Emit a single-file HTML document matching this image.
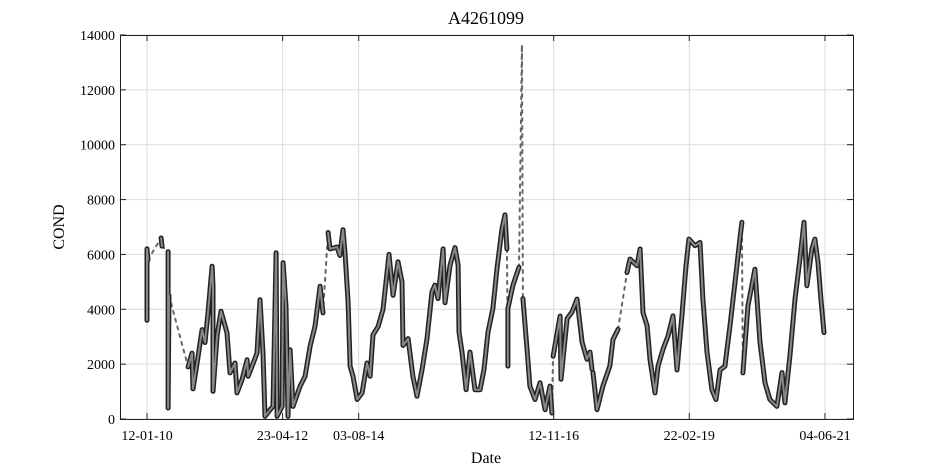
<!DOCTYPE html>
<html><head><meta charset="utf-8"><style>
html,body{margin:0;padding:0;background:#fff;}
svg{display:block;font-family:"Liberation Serif",serif;}
</style></head><body>
<svg id="chart" width="945" height="472">
<text x="486" y="24" text-anchor="middle" font-size="18">A4261099</text>
<text x="486" y="463" text-anchor="middle" font-size="16">Date</text>
<text transform="translate(64,227) rotate(-90)" text-anchor="middle" font-size="16">COND</text>
<g id="grid"></g>
<g id="series"></g>
<rect x="120.5" y="35.5" width="733" height="384" fill="none" stroke="#222" stroke-width="1"/>
<g id="axes"></g>
</svg>
<script>
const days=[0,0,6,86,92,129,129,135,252,276,282,307,338,356,374,399,405,405,430,454,491,509,540,552,583,614,620,644,675,693,712,724,755,773,792,798,829,835,853,865,878,896,939,970,1001,1031,1062,1080,1111,1123,1166,1184,1203,1215,1234,1246,1264,1289,1320,1350,1369,1387,1418,1448,1485,1510,1540,1565,1571,1602,1632,1657,1688,1718,1749,1767,1786,1817,1829,1860,1890,1909,1915,1933,1958,1982,2013,2044,2068,2093,2123,2148,2179,2197,2209,2215,2215,2246,2283,2301,2307,2332,2350,2381,2412,2443,2473,2485,2492,2535,2541,2578,2608,2639,2670,2700,2719,2731,2737,2762,2798,2841,2860,2891,2946,2964,3007,3026,3044,3069,3087,3118,3136,3167,3198,3228,3253,3283,3308,3326,3363,3394,3412,3437,3467,3492,3517,3547,3578,3609,3639,3651,3657,3688,3731,3762,3793,3823,3866,3897,3915,3946,3977,4007,4032,4050,4081,4099,4118,4136,4155];
const cond=[3600,6200,5800,6600,6300,6100,400,4500,1900,2400,1100,2040,3260,2790,3870,5570,4840,1010,3040,3930,3140,1680,2040,950,1430,2160,1560,1920,2400,4350,2400,100,340,460,6060,100,460,5700,4100,100,2520,460,1190,1560,2650,3380,4840,3870,6800,6200,6270,5960,6900,6060,4260,1930,1560,710,950,2040,1560,3070,3370,3990,6000,4510,5730,5000,2680,2930,1560,830,1810,2930,4640,4880,4390,6200,4240,5610,6250,5610,3170,2440,1070,2440,1070,1070,1810,3170,4030,5490,6960,7440,6200,1930,4030,4880,5530,13600,4390,2560,1200,710,1320,340,1200,220,2290,3750,1450,3660,3900,4370,2800,2180,2440,1810,1690,340,1200,1940,2900,3270,5340,5830,5590,6200,3880,3400,2170,950,1920,2540,3030,3760,1790,3760,5590,6560,6320,6440,4380,2440,1070,710,1790,1920,3400,4980,6560,7170,1680,4110,5460,2800,1320,710,460,1690,590,2290,4370,5830,7170,4860,6200,6560,5710,4380,3150];
const gapAfter=[2,4,7,47,94,98,99,107,117,123,151];
const yTicks=[0,2000,4000,6000,8000,10000,12000,14000];
const xTickDays=[0,832,1299,2496,3328,4161];
const xTickLabels=["12-01-10","23-04-12","03-08-14","12-11-16","22-02-19","04-06-21"];
const NS="http://www.w3.org/2000/svg";
const X0=120,X1=853,Y0=419,Y1=35,DMIN=-166,DMAX=4333;
function xs(d){return X0+(d-DMIN)/(DMAX-DMIN)*(X1-X0);}
function ys(v){return Y0-v/14000*(Y0-Y1);}
function mk(t,a,p){const e=document.createElementNS(NS,t);for(const k in a)e.setAttribute(k,a[k]);p.appendChild(e);return e;}
const grid=document.getElementById('grid'),axes=document.getElementById('axes'),ser=document.getElementById('series');
yTicks.forEach(v=>{const y=ys(v);
 const g=mk('line',{x1:X0,x2:X1,y1:y,y2:y,stroke:'#dcdcdc','stroke-width':1},grid);
 
 
 mk('line',{x1:X0,x2:X0+6,y1:y,y2:y,stroke:'#222'},axes);
 mk('line',{x1:X1-6,x2:X1,y1:y,y2:y,stroke:'#222'},axes);
 const t=mk('text',{x:X0-5,y:y+5,'text-anchor':'end','font-size':14},axes);t.textContent=v;
 
 
});
xTickDays.forEach((d,i)=>{const x=xs(d);
 const g=mk('line',{x1:x,x2:x,y1:Y1,y2:Y0,stroke:'#dcdcdc','stroke-width':1},grid);
 
 
 mk('line',{x1:x,x2:x,y1:Y0,y2:Y0-6,stroke:'#222'},axes);
 mk('line',{x1:x,x2:x,y1:Y1,y2:Y1+6,stroke:'#222'},axes);
 const t=mk('text',{x:x,y:Y0+21,'text-anchor':'middle','font-size':14},axes);t.textContent=xTickLabels[i];
 
 
});
let segs=[],cur=[];
for(let i=0;i<days.length;i++){cur.push([xs(days[i]),ys(cond[i])]);
 if(gapAfter.includes(i)&&i<days.length-1){segs.push(cur);
  const dl=mk('line',{x1:xs(days[i]),y1:ys(cond[i]),x2:xs(days[i+1]),y2:ys(cond[i+1]),stroke:'#666','stroke-width':2,'stroke-dasharray':'3,5','stroke-linecap':'round'},ser);
  
  
  cur=[];}}
segs.push(cur);
segs.forEach(s=>{if(s.length<2)return;const pts=s.map(p=>p[0].toFixed(1)+','+p[1].toFixed(1)).join(' ');
 const a=mk('polyline',{points:pts,fill:'none',stroke:'#222','stroke-width':5,'stroke-linejoin':'round','stroke-linecap':'round'},ser);
 
 
 const b=mk('polyline',{points:pts,fill:'none',stroke:'#888','stroke-width':2,'stroke-linejoin':'round','stroke-linecap':'round'},ser);
 
 
});
</script>
</body></html>
